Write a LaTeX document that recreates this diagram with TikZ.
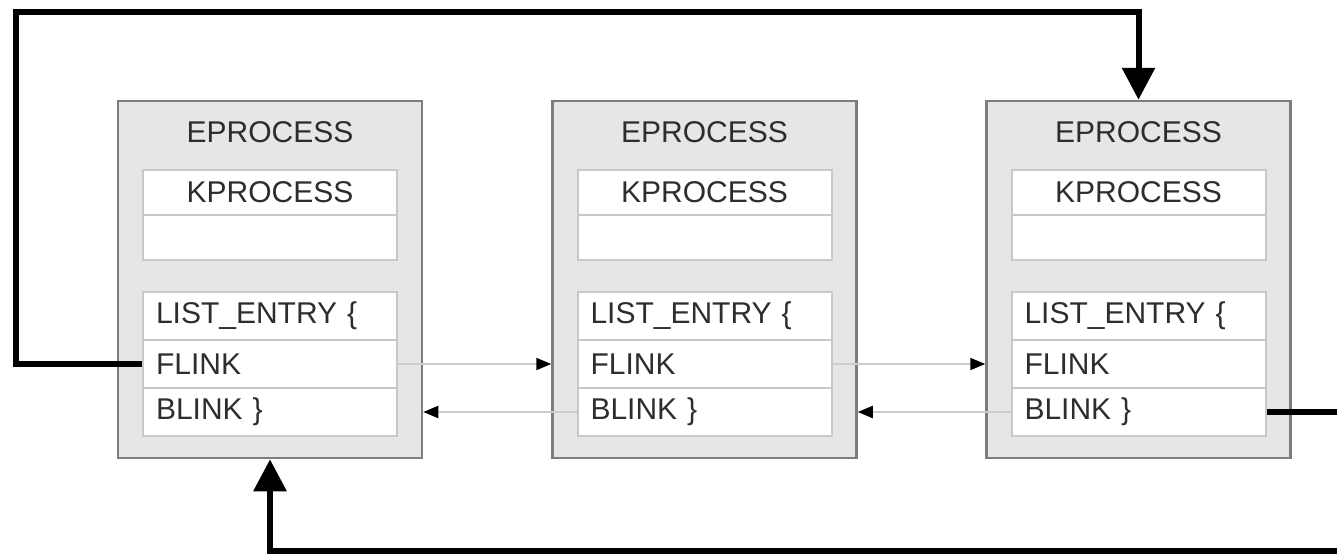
\documentclass[tikz,border=0pt]{standalone}
\usepackage{fontspec}
\setmainfont{Liberation Sans}
\usetikzlibrary{arrows.meta,positioning}
\definecolor{BoxGray}{RGB}{230,230,230}
\definecolor{EdgeGray}{RGB}{125,125,125}
\definecolor{RowGray}{RGB}{200,200,200}
\definecolor{LinkGray}{RGB}{205,205,205}
\definecolor{TextGray}{RGB}{45,45,45}
\tikzset{
	procbox/.style={draw=EdgeGray, fill=BoxGray, line width=2.5pt,
		minimum width=304pt, minimum height=357pt, inner sep=0pt},
	rowbox/.style={draw=RowGray, fill=white, line width=2pt,
		minimum width=254pt, minimum height=48pt, inner xsep=13pt, inner ysep=0pt,
		text width=228pt, align=left, text=TextGray,
		font=\fontsize{30}{35}\selectfont},
	title/.style={text=TextGray, font=\fontsize{30}{35}\selectfont},
	link/.style={LinkGray, line width=2pt, -{Triangle[length=15pt,width=12pt,black]}},
	bigarrow/.style={black, line width=6pt, -{Triangle[length=32pt,width=32pt]}}
}
\begin{document}
\begin{tikzpicture}[x=1pt,y=-1pt]
	\useasboundingbox (0,0) rectangle (1337,557);
	\foreach \i/\cx in {1/270,2/704.5,3/1138.5}{
		\node[procbox] (E\i) at (\cx,279.5) {};
		\node[title] (T\i) at (\cx,132) {EPROCESS};
		\node[rowbox, align=center, minimum height=45pt] (K\i) at (\cx,192.5) {KPROCESS};
		\node[rowbox, minimum height=45pt] (KX\i) at (\cx,237.5) {};
		\node[rowbox] (L\i) at (\cx,316) {LIST\_ENTRY \{};
		\node[rowbox] (F\i) at (\cx,364) {FLINK};
		\node[rowbox] (B\i) at (\cx,412) {BLINK \}};
	}
	% forward and backward links
	\draw[link] (F1.east) -- (E2.west |- F1.east);
	\draw[link] (F2.east) -- (E3.west |- F2.east);
	\draw[link] (B2.west) -- (E1.east |- B2.west);
	\draw[link] (B3.west) -- (E2.east |- B3.west);
	% wrap-around links
	\coordinate (topL) at (16,12);
	\coordinate (botR) at (1360,551);
	\draw[bigarrow] (F1.west) -| (topL) -| (E3.north);
	\begin{scope}
		\clip (0,0) rectangle (1337,557);
		\draw[bigarrow] (B3.east) -| (botR) -| (E1.south);
	\end{scope}
\end{tikzpicture}
\end{document}
